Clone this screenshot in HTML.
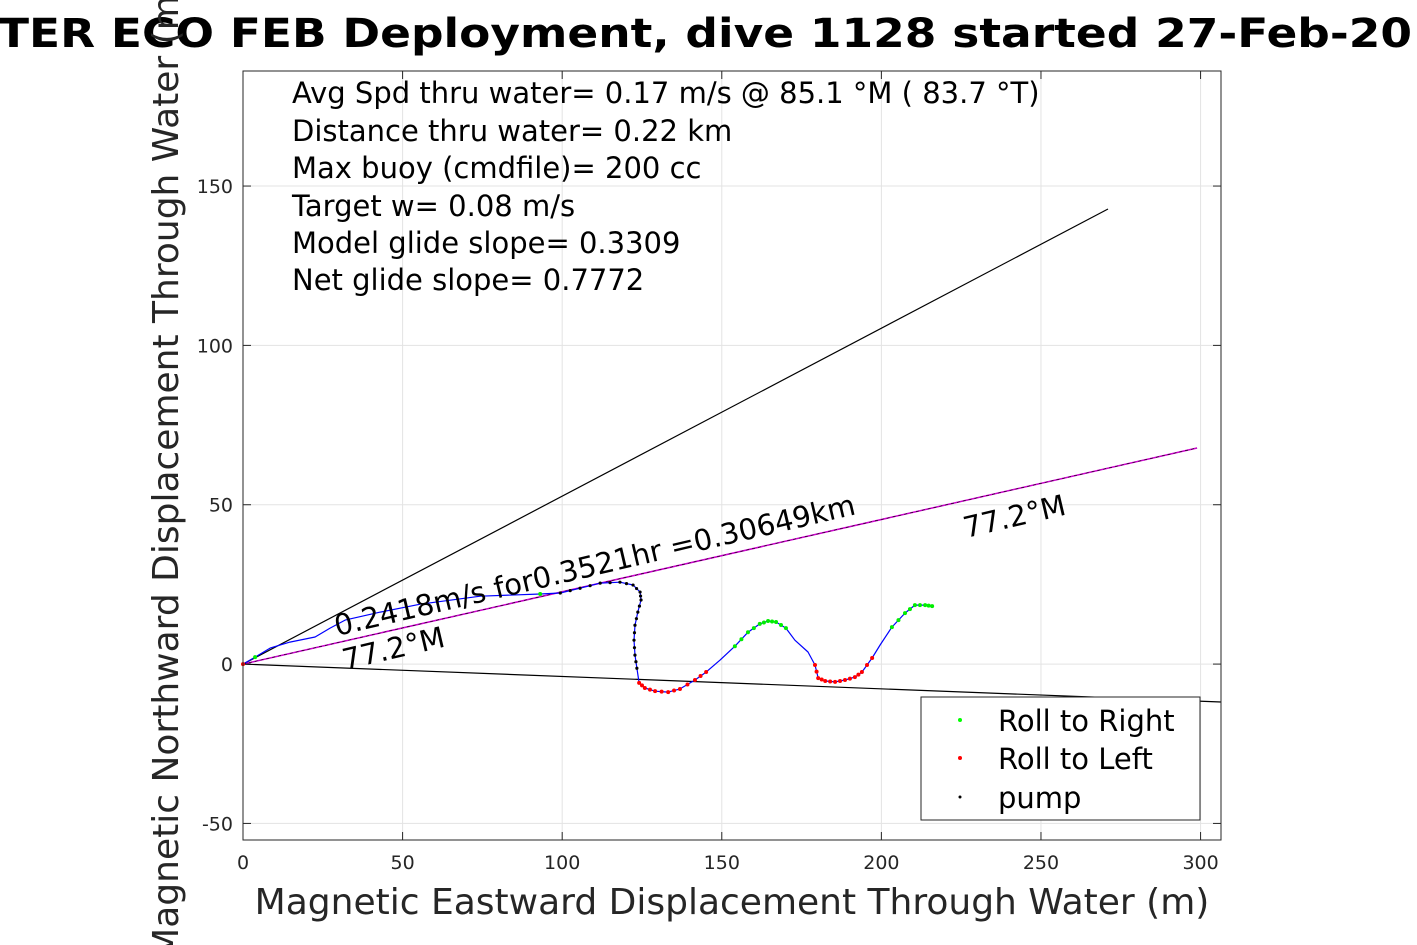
<!DOCTYPE html>
<html><head><meta charset="utf-8"><style>
body{margin:0;background:#fff;}
svg{display:block;font-family:"DejaVu Sans","Liberation Sans",sans-serif;}
</style></head><body>
<svg id="chart" width="1417" height="945" viewBox="0 0 1417 945">
<rect width="1417" height="945" fill="#fff"/>
<g id="grid"></g>
<g id="ticks"></g>
<g id="marks"></g>
<rect x="243" y="71" width="978" height="769" fill="none" stroke="#262626" stroke-width="1"/>
<text x="-2" y="47" font-size="40" font-weight="bold" textLength="1414" lengthAdjust="spacingAndGlyphs">TER ECO FEB Deployment, dive 1128 started 27-Feb-20</text>
<text x="732" y="914" font-size="36" fill="#262626" text-anchor="middle">Magnetic Eastward Displacement Through Water (m)</text>
<text transform="translate(178,470) rotate(-90)" font-size="36" fill="#262626" text-anchor="middle">Magnetic Northward Displacement Through Water (m)</text>
<g font-size="29">
<text x="292" y="103">Avg Spd thru water=  0.17 m/s @  85.1 °M ( 83.7 °T)</text>
<text x="292" y="141">Distance thru water=  0.22 km</text>
<text x="292" y="178">Max buoy (cmdfile)= 200 cc</text>
<text x="292" y="216">Target w= 0.08 m/s</text>
<text x="292" y="253">Model glide slope= 0.3309</text>
<text x="292" y="290">Net glide slope= 0.7772</text>
</g>
<text transform="translate(337,636) rotate(-13.2)" font-size="29">0.2418m/s for0.3521hr =0.30649km</text>
<text transform="translate(345,670) rotate(-13.2)" font-size="29">77.2°M</text>
<text transform="translate(966,538) rotate(-13.2)" font-size="29">77.2°M</text>
<g>
<rect x="921" y="697" width="279" height="123" fill="#fff" stroke="#262626" stroke-width="1"/>
<circle cx="960" cy="720" r="2" fill="#00ff00"/>
<text x="998" y="731" font-size="29">Roll to Right</text>
<circle cx="960" cy="758" r="2" fill="#ff0000"/>
<text x="998" y="769" font-size="29">Roll to Left</text>
<circle cx="960" cy="797" r="1.5" fill="#000"/>
<text x="998" y="808" font-size="29">pump</text>
</g>
</svg>
<script>
const xTicks=[0,50,100,150,200,250,300];
const yTicks=[-50,0,50,100,150];
const trackX=[0,3.8,8.5,14.7,22.6,27.3,32.0,43.0,55.5,74.3,93.1,99.4,105.6,111.9,118.1,122.2,124.4,124.7,123.7,122.8,122.5,122.8,123.4,124.1,125.9,129.1,133.2,136.9,141.6,145.1,149.5,154.1,158.2,161.9,164.5,167.0,170.1,172.9,177.0,179.2,180.2,182.4,185.5,188.6,191.7,193.9,197.1,199.6,203.3,207.4,210.5,213.7,215.9];
const trackY=[0,2.2,5.0,6.9,8.5,11.3,13.8,16.3,18.8,21.3,22.0,22.3,23.8,25.4,25.7,24.8,22.6,20.1,16.3,12.2,7.5,2.8,-1.3,-5.9,-7.5,-8.5,-8.8,-7.8,-5.0,-2.5,1.3,5.6,10.0,12.6,13.5,13.2,11.3,7.5,3.8,-0.3,-4.4,-5.3,-5.6,-5.0,-4.1,-2.5,1.9,6.0,11.6,16.0,18.5,18.5,18.2];
const markType=['r','g','n','n','n','n','n','n','n','n','g','k','k','k','k','k','k','k','k','k','k','k','k','r','r','r','r','r','r','r','n','g','g','g','g','g','g','n','n','r','r','r','r','r','r','r','r','n','g','g','g','g','g'];
const lineEnds=[[271,142.8],[298.9,67.8],[306.4,-11.9]];
const lineColors=['#000','#cc00cc','#000'];
const xMin=0,xMax=306.4,yMin=-55.2,yMax=186.1;
const L=243,R=1221,T=71,B=840;
const sx=v=>L+(v-xMin)/(xMax-xMin)*(R-L);
const sy=v=>B-(v-yMin)/(yMax-yMin)*(B-T);
const NS='http://www.w3.org/2000/svg';
function mk(tag,attrs,parent){const e=document.createElementNS(NS,tag);for(const k in attrs)e.setAttribute(k,attrs[k]);parent.appendChild(e);return e;}
const grid=document.getElementById('grid'),ticks=document.getElementById('ticks'),marks=document.getElementById('marks');
xTicks.forEach(t=>{const x=sx(t);
 const g=mk('line',{x1:x,x2:x,y1:T,y2:B,stroke:'#e3e3e3','stroke-width':1},grid);
 
 
 const tx=mk('text',{x:x,y:869,'font-size':19,fill:'#262626','text-anchor':'middle'},ticks);
 tx.textContent=t;
 
 
 mk('line',{x1:x,x2:x,y1:B,y2:B-8,stroke:'#262626'},ticks);
 mk('line',{x1:x,x2:x,y1:T,y2:T+8,stroke:'#262626'},ticks);
});
yTicks.forEach(t=>{const y=sy(t);
 const g=mk('line',{x1:L,x2:R,y1:y,y2:y,stroke:'#e3e3e3','stroke-width':1},grid);
 
 
 const tx=mk('text',{x:233,y:y+7,'font-size':19,fill:'#262626','text-anchor':'end'},ticks);
 tx.textContent=t;
 
 
 mk('line',{x1:L,x2:L+8,y1:y,y2:y,stroke:'#262626'},ticks);
 mk('line',{x1:R,x2:R-8,y1:y,y2:y,stroke:'#262626'},ticks);
});
lineEnds.forEach((p,i)=>{
 const l=mk('line',{x1:sx(0),y1:sy(0),x2:sx(p[0]),y2:sy(p[1]),stroke:lineColors[i],'stroke-width':i==1?1.5:1.2},marks);
 
 
 if(i==1){const l2=mk('line',{x1:sx(0),y1:sy(0),x2:sx(p[0]),y2:sy(p[1]),stroke:'#000','stroke-width':0.6,'stroke-dasharray':'3 3'},marks);
 
 }
});
const pts=trackX.map((x,i)=>sx(x).toFixed(1)+','+sy(trackY[i]).toFixed(1)).join(' ');
const pl=mk('polyline',{points:pts,fill:'none',stroke:'#0000ff','stroke-width':1.2,'stroke-linejoin':'round'},marks);


const col={g:'#00ee00',r:'#ff0000',k:'#000'};
trackX.forEach((x,i)=>{const t=markType[i];if(t==='n')return;
 // also a mid-segment dot for density
 const pts2=[[x,trackY[i]]];
 if(i+1<trackX.length&&markType[i+1]===t)pts2.push([(x+trackX[i+1])/2,(trackY[i]+trackY[i+1])/2]);
 pts2.forEach(p=>{
  const c=mk('circle',{cx:sx(p[0]),cy:sy(p[1]),r:t==='k'?1.6:2,fill:col[t]},marks);
  
  
 });
});
</script>
</body></html>
